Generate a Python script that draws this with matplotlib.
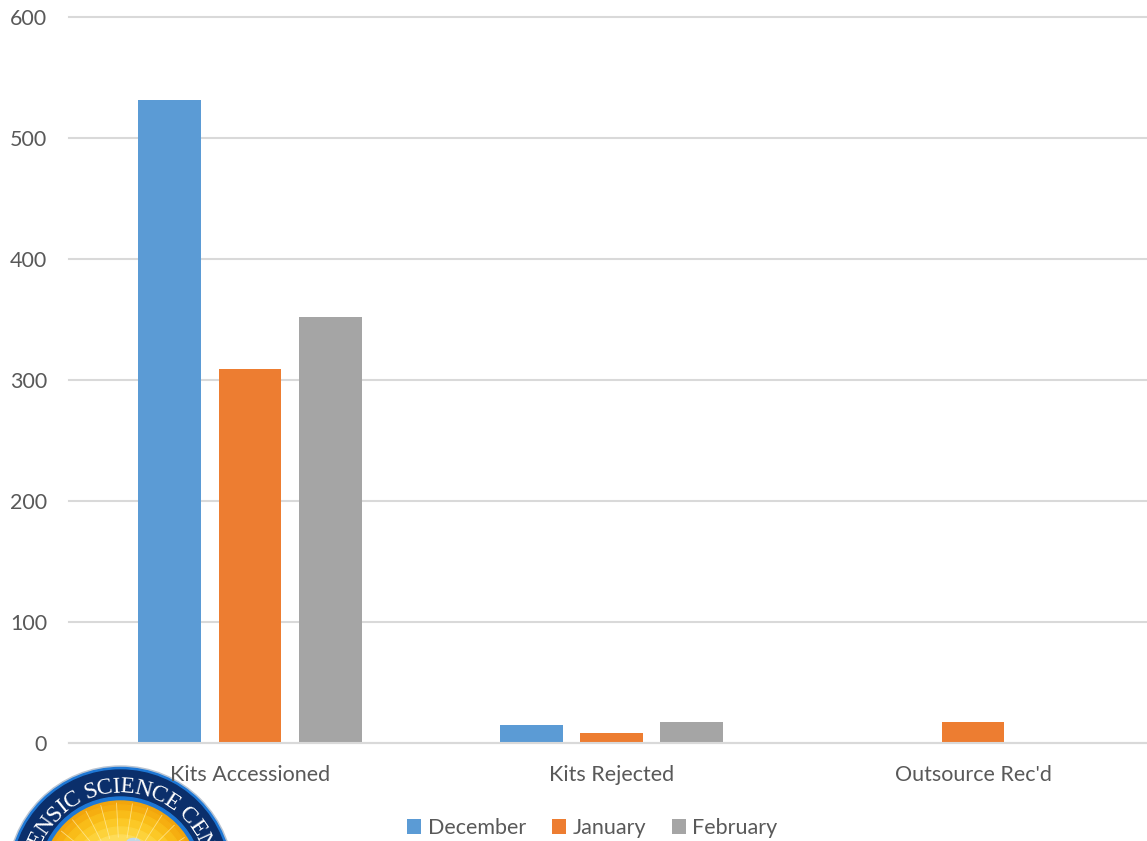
import matplotlib
matplotlib.use("Agg")
import matplotlib.pyplot as plt
from matplotlib.patches import Circle, Ellipse
import numpy as np

categories = ["Kits Accessioned", "Kits Rejected", "Outsource Rec'd"]
months = ["December", "January", "February"]
december = [531, 15, 0]
january = [309, 8, 17]
february = [352, 17, 1]
colors = ["#5B9BD5", "#ED7D31", "#A5A5A5"]
yticks = [0, 100, 200, 300, 400, 500, 600]
seal_text = "ENSIC SCIENCE CEN"

W, H = 1147, 841
FS = 15.5
plt.rcParams['font.family'] = ['Lato', 'DejaVu Sans']

fig = plt.figure(figsize=(W/100, H/100), dpi=100)

# plot area runs off the right side of the image in the original
ax = fig.add_axes([69.25/W, 1-743/H, (W-69.25)/W, (743-17)/H])
x = np.arange(3)
w = 0.174
off = 0.222
for i, vals in enumerate([december, january, february]):
    ax.bar(x + (i-1)*off, vals, w, color=colors[i], label=months[i], zorder=3)

ax.set_xlim(-0.5, (W-69.25)/361.5 - 0.5)
ax.set_ylim(0, 600)
ax.set_yticks(yticks)
ax.set_xticks(x)
ax.set_xticklabels(categories)
ax.tick_params(axis='both', length=0, labelsize=FS, labelcolor="#595959")
ax.tick_params(axis='x', pad=15.7)
ax.tick_params(axis='y', pad=16)
ax.grid(axis='y', color="#D9D9D9", lw=1.5, zorder=0)
for gl in ax.get_ygridlines():
    gl.set_clip_on(False)
ax.set_axisbelow(True)
for s in ['top', 'right', 'left']:
    ax.spines[s].set_visible(False)
ax.spines['bottom'].set_color("#D9D9D9")
ax.spines['bottom'].set_linewidth(1.5)
ax.spines['bottom'].set_zorder(5)

fig.legend(loc='center', bbox_to_anchor=(592.5/W, 1-828/H), ncol=3, frameon=False,
           fontsize=FS, labelcolor="#595959", handlelength=0.65, handleheight=0.65,
           handletextpad=0.3, columnspacing=1.2, borderpad=0)

# seal in the lower left corner, in pixel coordinates
seal = fig.add_axes([0, 0, 1, 1], zorder=-1)
seal.set_xlim(0, W)
seal.set_ylim(H, 0)
seal.axis('off')
seal.patch.set_alpha(0)
cx, cy = 120.5, 879
seal.add_patch(Circle((cx, cy), 113, color="#B9C4D2"))
seal.add_patch(Circle((cx, cy), 111.5, color="#1E78D6"))
seal.add_patch(Circle((cx, cy), 109, color="#0B2F6B"))
seal.add_patch(Circle((cx, cy), 82, color="#1E78D6"))
seal.add_patch(Circle((cx, cy), 78, color="#F2A50C"))
# sun gradient, orange at the rim to pale yellow in the middle
for r, c in [(74, "#F6AE10"), (68, "#F9BC18"), (60, "#FCC826"),
             (52, "#FDD23A"), (44, "#FEDC58")]:
    seal.add_patch(Circle((cx, cy), r, color=c))
for a in np.arange(-165, -10, 12):
    r = np.radians(a)
    seal.plot([cx+42*np.cos(r), cx+76*np.cos(r)], [cy+42*np.sin(r), cy+76*np.sin(r)],
              color="#FFEFB0", lw=0.6, alpha=0.7)
seal.add_patch(Ellipse((cx+13, cy-37), 13, 7, color="#BFD8E8"))

# lettering around the ring, spaced by letter width
em = {"E": .611, "N": .722, "S": .556, "I": .333, "C": .667, " ": .25}
adv = np.array([em[c] for c in seal_text])
pos = np.cumsum(adv) - adv/2
px = 23.5
radius = 92
mid = -89
angles = mid + np.degrees((pos - adv.sum()/2) * px / radius)
for ch, a in zip(seal_text, angles):
    r = np.radians(a)
    seal.text(cx+radius*np.cos(r), cy+radius*np.sin(r), ch, color="white", fontsize=px*0.72,
              family="Liberation Serif", rotation=-a-90, rotation_mode='anchor',
              ha='center', va='center')

fig.savefig("out.png", dpi=100)
